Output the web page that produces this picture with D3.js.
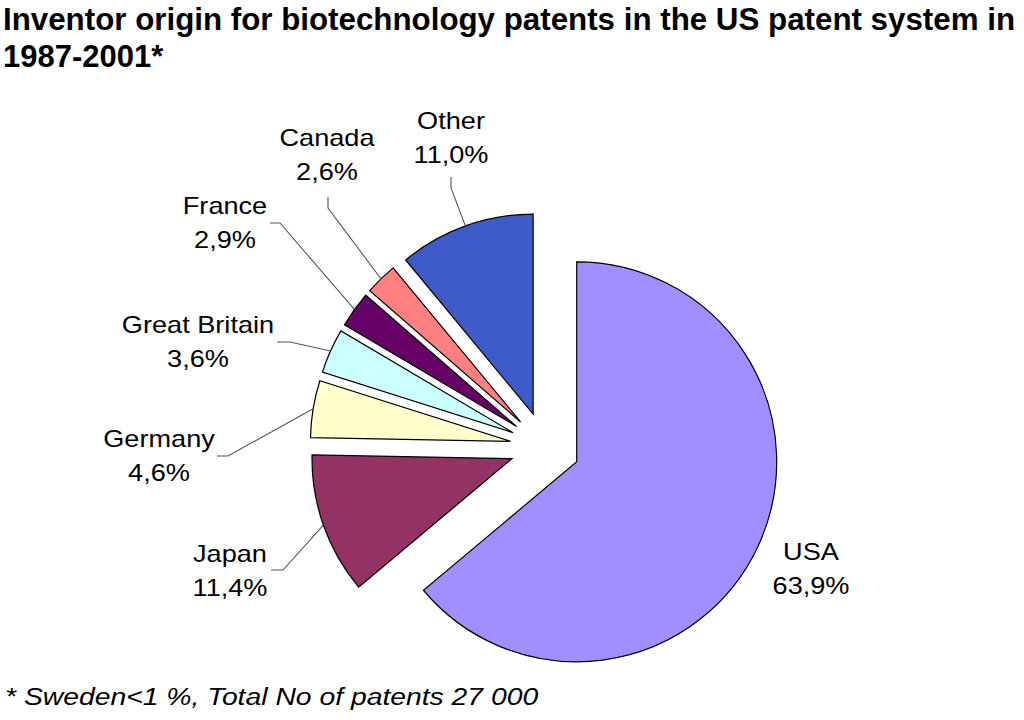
<!DOCTYPE html>
<html>
<head>
<meta charset="utf-8">
<script src="https://cdn.jsdelivr.net/npm/d3@7"></script>
<style>
  html, body { margin: 0; padding: 0; background: #ffffff; }
  svg { display: block; }
  text { font-family: "Liberation Sans", Arial, sans-serif; fill: #000; }
</style>
</head>
<body>
<svg id="chart" width="1024" height="720"></svg>
<script>
// ---- data ----
const countries = ["USA", "Japan", "Germany", "Great Britain", "France", "Canada", "Other"];
const shares = [63.9, 11.4, 4.6, 3.6, 2.9, 2.6, 11.0];
const titleLines = ["Inventor origin for biotechnology patents in the US patent system in", "1987-2001*"];
const footnote = "* Sweden<1 %, Total No of patents 27 000";

// ---- styles / layout ----
const colors = ["#a090ff", "#933264", "#ffffcc", "#ccffff", "#660066", "#ff8080", "#3f5bc9"];
const cx = 545, cy = 447, radius = 200, explode = 35;
const sx = 1.18; // horizontal stretch of label text
// label layout: centre x, first baseline y, leader start, leader elbow
const labelLayout = [
  { x: 811, y: 560, leader: null },
  { x: 230, y: 562, leader: [[271, 570], [283, 570]] },
  { x: 159, y: 447, leader: [[217, 456], [228, 456]] },
  { x: 198, y: 333, leader: [[277, 342], [290, 342]] },
  { x: 225, y: 214, leader: [[270, 223], [280, 223]] },
  { x: 327, y: 146, leader: [[328, 197], [328, 208]] },
  { x: 451, y: 129, leader: [[451, 177], [451, 188]] }
];
const lineGap = 34;

const svg = d3.select("#chart");
const data = countries.map((c, i) => ({ name: c, value: shares[i] }));

const pie = d3.pie().sort(null).value(d => d.value).startAngle(0).endAngle(2 * Math.PI);
const arcs = pie(data);
const arc = d3.arc().innerRadius(0).outerRadius(radius);
const edgeArc = d3.arc().innerRadius(radius).outerRadius(radius);
const offsetArc = d3.arc().innerRadius(explode).outerRadius(explode);

const loc = d3.formatLocale({ decimal: ",", thousands: " ", grouping: [3], currency: ["", ""] });
const fmt = loc.format(".1f");

const g = svg.append("g").attr("transform", `translate(${cx},${cy})`);

// slices
g.selectAll("path.slice")
  .data(arcs)
  .join("path")
  .attr("class", "slice")
  .attr("d", arc)
  .attr("transform", d => {
    const [ox, oy] = offsetArc.centroid(d);
    return `translate(${ox},${oy})`;
  })
  .attr("fill", (d, i) => colors[i])
  .attr("stroke", "#000")
  .attr("stroke-width", 1.2)
  .attr("stroke-linejoin", "miter");

// leader lines
const line = d3.line();
arcs.forEach((d, i) => {
  const L = labelLayout[i];
  if (!L.leader) return;
  const [ex, ey] = edgeArc.centroid(d);
  const [ox, oy] = offsetArc.centroid(d);
  const end = [cx + ex + ox, cy + ey + oy];
  svg.append("path")
    .attr("d", line([L.leader[0], L.leader[1], end]))
    .attr("fill", "none")
    .attr("stroke", "#555")
    .attr("stroke-width", 1.1);
});

// labels
arcs.forEach((d, i) => {
  const L = labelLayout[i];
  [d.data.name, fmt(d.data.value) + "%"].forEach((t, k) => {
    svg.append("text")
      .attr("transform", `translate(${L.x},${L.y + k * lineGap}) scale(${sx},1)`)
      .attr("text-anchor", "middle")
      .style("font-size", "23px")
      .text(t);
  });
});

// title
svg.append("text")
  .attr("x", 3).attr("y", 30)
  .attr("textLength", 1012).attr("lengthAdjust", "spacingAndGlyphs")
  .style("font-size", "31px").style("font-weight", "bold")
  .text(titleLines[0]);
svg.append("text")
  .attr("x", 3).attr("y", 67)
  .style("font-size", "31px").style("font-weight", "bold")
  .text(titleLines[1]);

// footnote
svg.append("text")
  .attr("transform", `translate(5,705) scale(${sx},1)`)
  .style("font-size", "24px").style("font-style", "italic")
  .text(footnote);
</script>
</body>
</html>
